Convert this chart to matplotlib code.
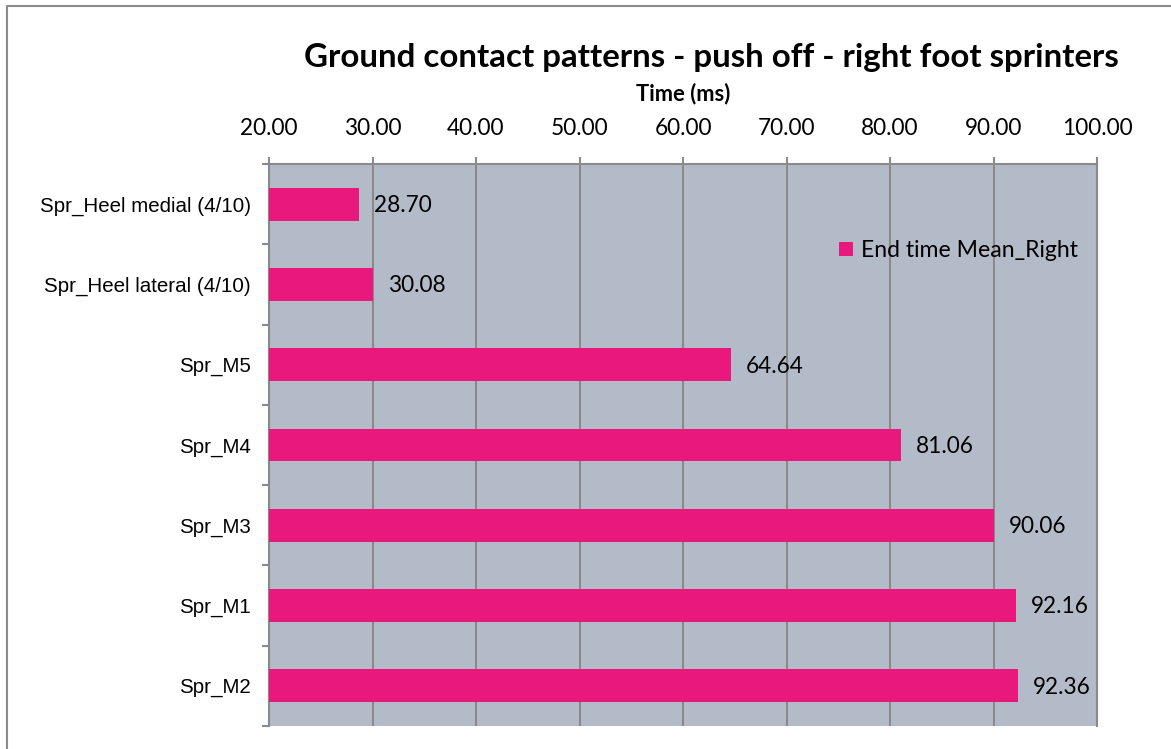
import matplotlib
matplotlib.use("Agg")
import matplotlib.pyplot as plt
from matplotlib.lines import Line2D

categories = ["Spr_Heel medial (4/10)", "Spr_Heel lateral (4/10)", "Spr_M5",
              "Spr_M4", "Spr_M3", "Spr_M1", "Spr_M2"]
end_time = [28.70, 30.08, 64.64, 81.06, 90.06, 92.16, 92.36]
x_ticks = [20, 30, 40, 50, 60, 70, 80, 90, 100]
series_name = "End time Mean_Right"

BAR = "#E9187C"
PLOT_BG = "#B4BBC8"
GRID = "#8A8A8A"
SANS = "Lato"
LABEL_FONT = "Liberation Sans"

W, H = 1171, 749
fig = plt.figure(figsize=(W / 100, H / 100), dpi=100)
ax = fig.add_axes([269 / W, 1 - 726 / H, (1097 - 269) / W, (726 - 164) / H])
ax.set_facecolor(PLOT_BG)

ypos = list(range(len(categories)))
ax.barh(ypos, [v - x_ticks[0] for v in end_time], left=x_ticks[0], height=0.41,
        color=BAR, label=series_name, zorder=3)

for y, v in zip(ypos, end_time):
    ax.annotate(f"{v:.2f}", xy=(v, y), xytext=(10.5, -1), textcoords="offset points",
                ha="left", va="center", fontsize=16.3, family=SANS, zorder=4)

ax.set_xlim(x_ticks[0], x_ticks[-1])
ax.set_ylim(len(categories) - 0.5, -0.5)
ax.xaxis.tick_top()
ax.xaxis.set_label_position("top")
ax.set_xticks(x_ticks)
ax.set_xticklabels([f"{t:.2f}" for t in x_ticks], family=SANS, fontsize=16.3)
ax.tick_params(axis="x", direction="out", length=5, width=1.5, color=GRID, pad=13)
ax.set_xlabel("Time (ms)", family=SANS, fontweight="bold", fontsize=15.8, labelpad=13)

ax.set_yticks(ypos)
ax.set_yticklabels(categories, family=LABEL_FONT, fontsize=14.8)
ax.tick_params(axis="y", which="major", length=0, pad=13)
ax.set_yticks([i - 0.5 for i in range(len(categories) + 1)], minor=True)
ax.tick_params(axis="y", which="minor", direction="out", length=5, width=1.5, color=GRID)

ax.grid(axis="x", color=GRID, linewidth=1.5, zorder=1)
ax.set_axisbelow(True)
for side in ("top", "left"):
    ax.spines[side].set_color(GRID)
    ax.spines[side].set_linewidth(1.5)
ax.spines["bottom"].set_visible(False)
ax.spines["right"].set_color(GRID)
ax.spines["right"].set_linewidth(1.5)

leg = ax.legend(loc="upper left", bbox_to_anchor=(570 / 828, 1 - 76 / 562), frameon=False,
                prop={"family": SANS, "size": 16.6}, handlelength=0.6, handleheight=0.6,
                handletextpad=0.35, borderaxespad=0, borderpad=0)

fig.text(711 / W, 1 - 57 / H, "Ground contact patterns - push off - right foot sprinters",
         ha="center", va="center", family=SANS, fontweight="bold", fontsize=23.8)

fig.add_artist(Line2D([7 / W, 7 / W, 1.0], [0.0, 1 - 6 / H, 1 - 6 / H],
                      transform=fig.transFigure, color="#8C8C8C", linewidth=1.5))

fig.savefig("out.png", dpi=100)
